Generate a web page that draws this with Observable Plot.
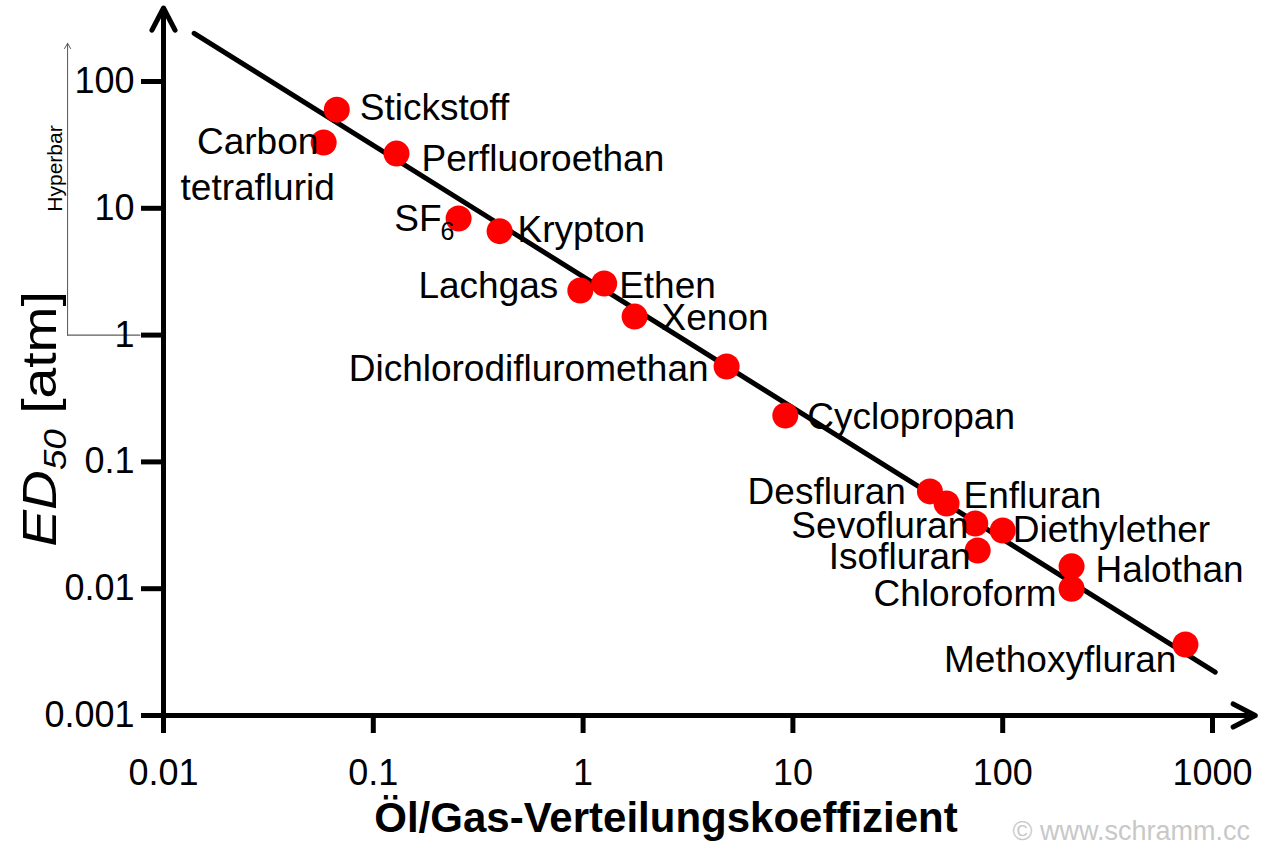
<!DOCTYPE html>
<html><head><meta charset="utf-8">
<script src="https://cdn.jsdelivr.net/npm/d3@7"></script>
<script src="https://cdn.jsdelivr.net/npm/@observablehq/plot@0.6"></script>
<style>
html,body{margin:0;padding:0;background:#fff;}
svg{display:block;}
</style></head><body><div id="chart"></div>
<script>
// ---- data ----
const gases = ["Stickstoff","Carbon tetraflurid","Perfluoroethan","SF6","Krypton","Lachgas","Ethen","Xenon","Dichlorodifluromethan","Cyclopropan","Desfluran","Enfluran","Sevofluran","Diethylether","Isofluran","Halothan","Chloroform","Methoxyfluran"];
const oilGas = [0.067,0.058,0.129,0.255,0.40,0.97,1.26,1.76,4.83,9.2,45,54,74,100,76,213,213,743];
const ed50 = [60,33,27,8.3,6.6,2.25,2.55,1.40,0.565,0.232,0.0585,0.047,0.0327,0.0288,0.020,0.015,0.010,0.00363];
const fitX = [0.014, 1030];
const fitY = [240, 0.0022];
const xTicks = [0.01,0.1,1,10,100,1000];
const yTicks = [0.001,0.01,0.1,1,10,100];
const xLabel = "Öl/Gas-Verteilungskoeffizient";
const yLabelMain = "ED", yLabelSub = "50", yLabelUnit = " [atm]";
const hyperLabel = "Hyperbar";
const credit = "© www.schramm.cc";

// ---- layout for labels ----
const labelPos = {
 "Stickstoff": {dx: 23, dy: -4, anchor: "start"},
 "Carbon tetraflurid": {dx: -66, dy: 20, anchor: "middle", text: "Carbon\ntetraflurid"},
 "Perfluoroethan": {dx: 25, dy: 3, anchor: "start"},
 "Krypton": {dx: 18, dy: -4, anchor: "start"},
 "Lachgas": {dx: -22, dy: -7, anchor: "end"},
 "Ethen": {dx: 15, dy: 0, anchor: "start"},
 "Xenon": {dx: 27, dy: -1, anchor: "start"},
 "Dichlorodifluromethan": {dx: -18, dy: 0, anchor: "end"},
 "Cyclopropan": {dx: 22, dy: -1, anchor: "start"},
 "Desfluran": {dx: -24, dy: -2, anchor: "end"},
 "Enfluran": {dx: 17, dy: -10, anchor: "start"},
 "Sevofluran": {dx: -7, dy: 0, anchor: "end"},
 "Diethylether": {dx: 10, dy: -3, anchor: "start"},
 "Isofluran": {dx: -7, dy: 4, anchor: "end"},
 "Halothan": {dx: 24, dy: 1, anchor: "start"},
 "Chloroform": {dx: -15, dy: 2, anchor: "end"},
 "Methoxyfluran": {dx: -9, dy: 13, anchor: "end"}
};
const FS = 37;
const idx = gases.map((_, i) => i);
const X = i => oilGas[i], Y = i => ed50[i];

const labelMarks = [];
idx.forEach(i => {
  const g = gases[i];
  if (g === "SF6") {
    labelMarks.push(Plot.text([i], {x: X, y: Y, text: () => "SF", dx: -17, dy: 1, textAnchor: "end", lineAnchor: "middle", fontSize: FS, fill: "black"}));
    labelMarks.push(Plot.text([i], {x: X, y: Y, text: () => "6", dx: -18, dy: 13, textAnchor: "start", lineAnchor: "middle", fontSize: 25, fill: "black"}));
    return;
  }
  const p = labelPos[g];
  labelMarks.push(Plot.text([i], {x: X, y: Y, text: () => p.text || g, dx: p.dx, dy: p.dy, textAnchor: p.anchor, lineAnchor: "middle", lineHeight: 1.25, fontSize: FS, fill: "black"}));
});

const fitIdx = fitX.map((_, i) => i);

const plot = Plot.plot({
  width: 1268,
  height: 849,
  marginLeft: 163,
  marginRight: 56,
  marginTop: 81,
  marginBottom: 134,
  style: {fontFamily: "'Liberation Sans', Arial, sans-serif", background: "#fff", color: "black"},
  x: {type: "log", domain: [0.01, 1000]},
  y: {type: "log", domain: [0.001, 100]},
  marks: [
    // hyperbar annotation
    Plot.ruleY([1], {x1: () => 0.00349, x2: () => 0.0078, stroke: "#333", strokeWidth: 1}),
    Plot.arrow([0], {x1: () => 0.00349, y1: () => 1, x2: () => 0.00349, y2: () => 200, stroke: "#555", strokeWidth: 1, headLength: 9, headAngle: 60}),
    Plot.text([hyperLabel], {frameAnchor: "top-left", dx: -108, dy: 87, rotate: -90, fontSize: 21, textAnchor: "middle", lineAnchor: "middle", fill: "black"}),
    // axes
    Plot.axisX({ticks: xTicks, tickFormat: d => String(d), tickSize: 18, tickPadding: 26, fontSize: 36, strokeWidth: 5, label: null}),
    Plot.axisY({ticks: yTicks, tickFormat: d => String(d), tickSize: 22, tickPadding: 7, fontSize: 36, strokeWidth: 5, label: null}),
    Plot.arrow([0], {x1: () => 0.0082, y1: () => 0.001, x2: () => 1600, y2: () => 0.001, stroke: "black", strokeWidth: 5, headLength: 7.5, headAngle: 55}),
    Plot.arrow([0], {x1: () => 0.01, y1: () => 0.00076, x2: () => 0.01, y2: () => 380, stroke: "black", strokeWidth: 5, headLength: 7.5, headAngle: 55}),
    // fit line
    Plot.line(fitIdx, {x: i => fitX[i], y: i => fitY[i], stroke: "black", strokeWidth: 5}),
    // points
    Plot.dot(idx, {x: X, y: Y, r: 13, fill: "#ff0000", stroke: "none"}),
    ...labelMarks,
    // axis label
    Plot.text([xLabel], {frameAnchor: "bottom", dx: -22, dy: 103, fontSize: 42, fontWeight: "bold", textAnchor: "middle", lineAnchor: "middle", fill: "black"}),
    // credit
    Plot.text([credit], {frameAnchor: "bottom-right", dx: -200, dy: 116, fontSize: 27, textAnchor: "start", lineAnchor: "middle", fill: "#c8c8c8"})
  ]
});

// y-axis label with italic and subscript
const svg = d3.select(plot);
const t = svg.append("text")
  .attr("transform", "translate(56,419) rotate(-90) scale(1.15,1)")
  .attr("text-anchor", "middle")
  .attr("font-family", "'Liberation Sans', Arial, sans-serif")
  .attr("font-size", 48)
  .attr("fill", "black");
t.append("tspan").attr("font-style", "italic").text(yLabelMain);
t.append("tspan").attr("font-style", "italic").attr("font-size", 32).attr("dy", 10).text(yLabelSub);
t.append("tspan").attr("dy", -10).text(yLabelUnit);

document.getElementById("chart").appendChild(plot);
</script></body></html>
